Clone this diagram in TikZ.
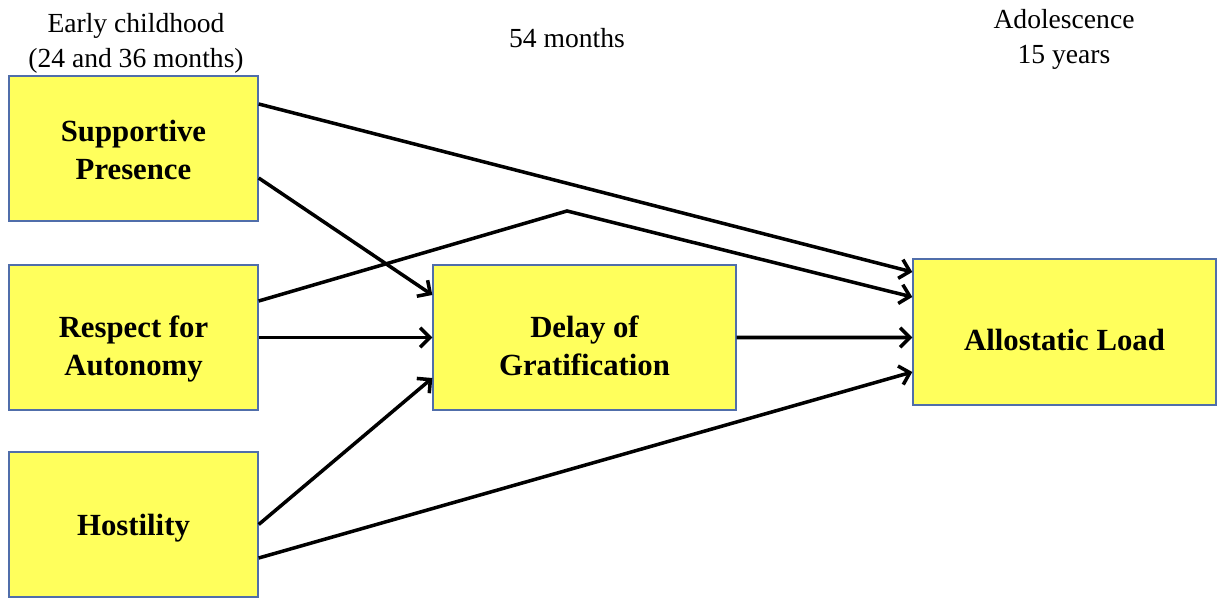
\documentclass[tikz,border=0pt]{standalone}
\usepackage{fontspec}
\setmainfont{Liberation Serif}
\usepackage{xcolor}
\usepackage{tikz}
\usetikzlibrary{arrows.meta, positioning}
\definecolor{boxfill}{RGB}{255,255,92}
\definecolor{boxline}{RGB}{80,110,170}
\tikzstyle{line} = [draw, line width=2pt, -{Straight Barb[length=5.5pt,width=11pt,line width=2pt]}]
\tikzstyle{block}=[draw=boxline, line width=0.8pt, fill=boxfill, rectangle, align=center, inner sep=0pt, font=\fontsize{17.5}{21.5}\selectfont\bfseries]
\tikzstyle{stage}=[align=center, font=\fontsize{15.7}{19.8}\selectfont]

\begin{document}
\begin{tikzpicture}
		\useasboundingbox (0,0) rectangle (24.34,-11.96);
		\node[block, minimum width=4.98cm, minimum height=2.9cm, text height=35.6pt] (SP) at (2.67,-2.97) {Supportive\\Presence};
		\node[block, minimum width=4.98cm, minimum height=2.9cm, text height=46.8pt] (RA) at (2.67,-6.75) {Respect for\\Autonomy};
		\node[block, minimum width=4.98cm, minimum height=2.9cm, text height=15.8pt] (H) at (2.67,-10.49) {Hostility};
		\node[block, minimum width=6.06cm, minimum height=2.9cm, text height=43.4pt] (DG) at (11.69,-6.75) {Delay of\\Gratification};
		\node[block, minimum width=6.06cm, minimum height=2.92cm, text height=21.6pt] (AL) at (21.29,-6.64) {Allostatic Load};
		\node[stage] (early) at (2.72,-0.86) {Early childhood\\(24 and 36 months)};
		\node[stage] (mid) at (11.34,-0.76) {54 months};
		\node[stage] (adol) at (21.28,-0.79) {Adolescence\\15 years};
		\coordinate (bend) at (11.34,-4.22);
		\draw[line] ([yshift=0.89cm]SP.east) -- ([yshift=1.2cm]AL.west);
		\draw[line] ([yshift=-0.59cm]SP.east) -- ([yshift=0.85cm]DG.west);
		\draw[line] ([yshift=0.73cm]RA.east) -- (bend) -- ([yshift=0.7cm]AL.west);
		\draw[line] (RA.east) -- (DG.west);
		\draw[line] (H.east) -- ([yshift=-0.81cm]DG.west);
		\draw[line] ([yshift=-0.67cm]H.east) -- ([yshift=-0.8cm]AL.west);
		\draw[line] (DG.east) -- ([yshift=-0.11cm]AL.west);
	\end{tikzpicture}
\end{document}
